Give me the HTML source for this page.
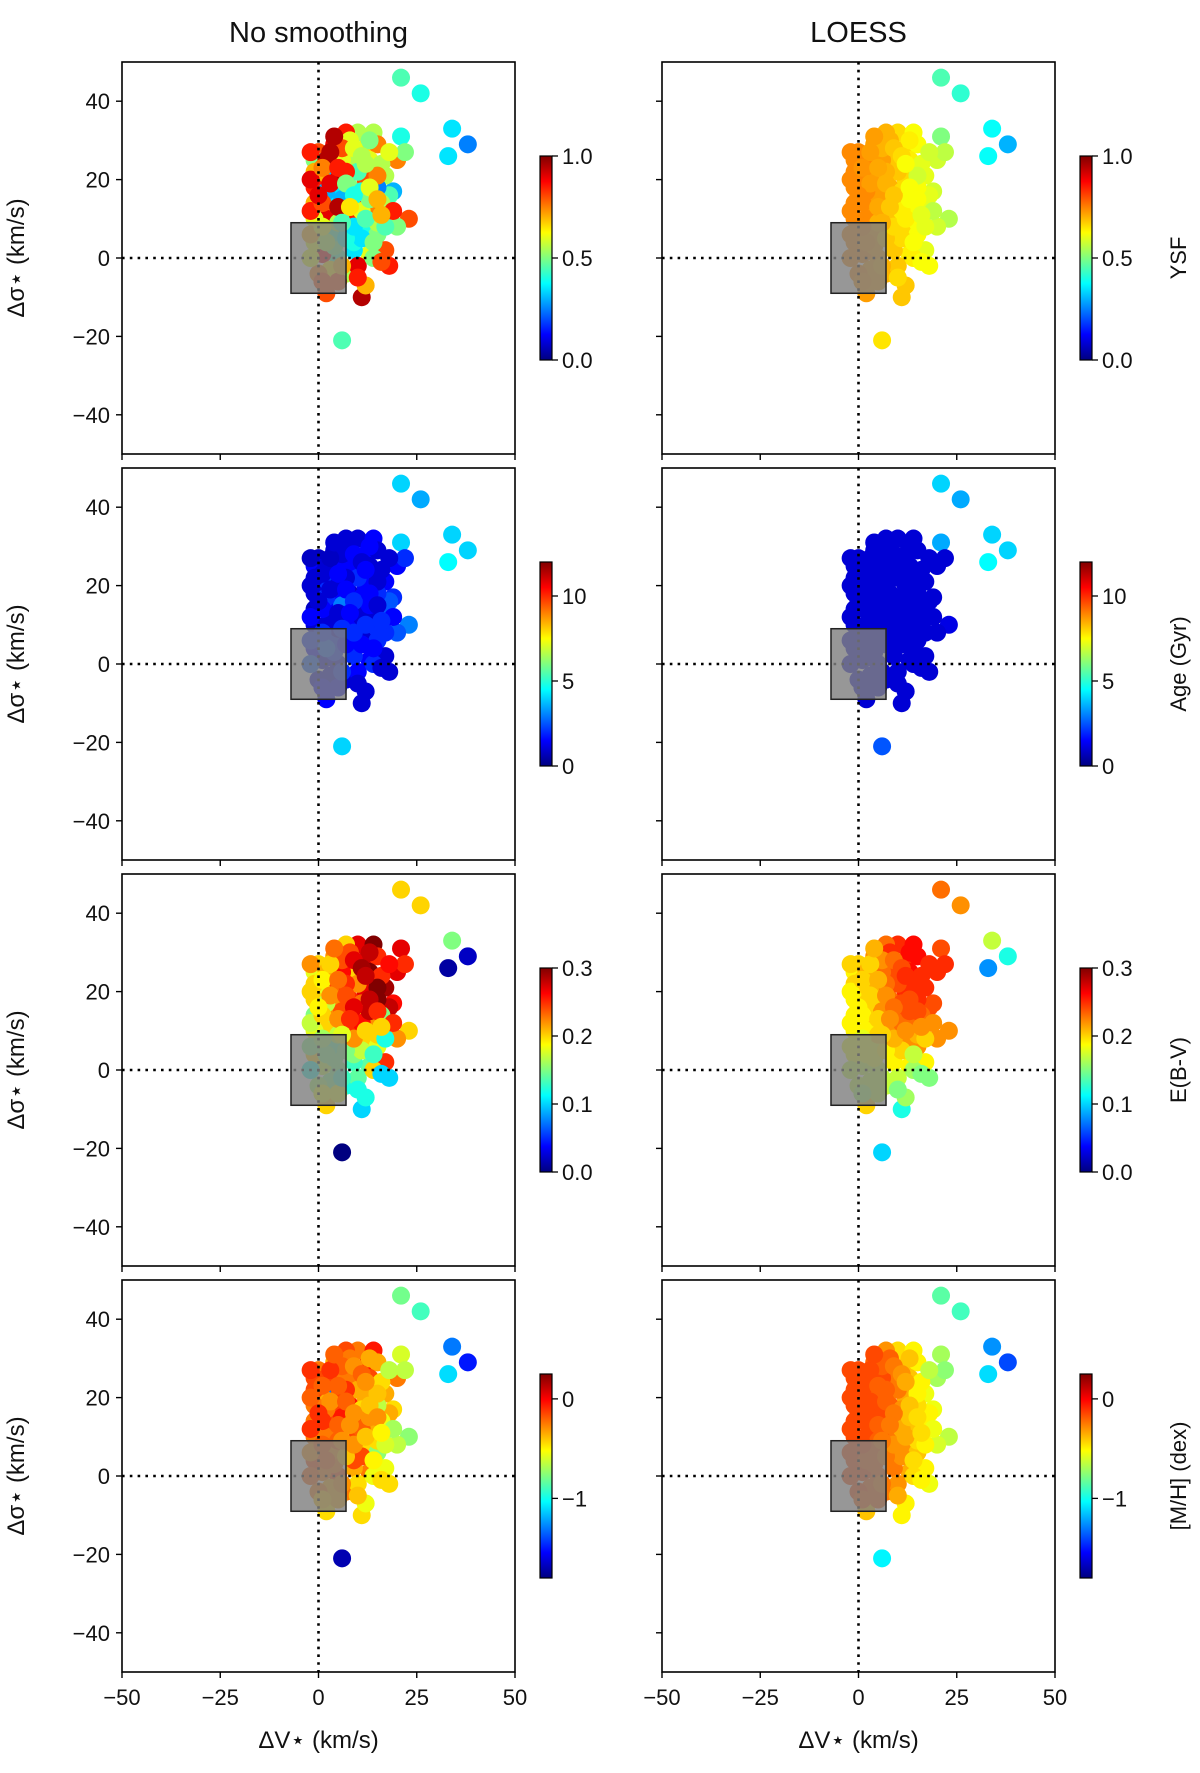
<!DOCTYPE html>
<html><head><meta charset="utf-8"><style>
html,body{margin:0;padding:0;background:#fff;}
svg{display:block;font-family:"Liberation Sans","DejaVu Sans",sans-serif;}
</style></head><body>
<svg id="fig" width="1200" height="1773" viewBox="0 0 1200 1773" xmlns="http://www.w3.org/2000/svg"></svg>
<script>
// ---- data ----
const dV = [21,26,34,38,33,21,6,11,2,12,18,23,20,19,18,20,22,17,10,14,7,4,0,-1,3,8,12,15,13,9,5,1,-1,4,8,12,15,16,11,7,3,-1,0,4,8,12,15,17,13,9,5,1,-1,3,7,10,14,16,0,5,9,2,6,10,14,2,6,10,16,-1,2,8,13,18,11,7,4,11,15,-1,
 -2,-2,-2,-2,1,3,5,7,9,11,13,15,17,19,6,9,11,3,1,5,3,7,9,13,15,1,5,8,12,14,10,6,2,0,-2,4,12,16,6,1];
const dS = [46,42,33,29,26,31,-21,-10,-9,-7,-2,10,8,17,16,25,27,21,32,32,32,29,27,25,23,27,28,29,25,24,20,20,18,16,18,20,18,14,14,12,12,14,8,6,7,8,6,2,1,2,0,1,4,-3,-4,-2,0,-1,-4,-6,4,10,15,10,12,25,25,22,24,22,17,30,30,27,17,22,3,5,9,10,
 20,12,6,0,-6,6,9,5,8,12,15,21,8,12,28,28,26,27,23,23,19,19,16,18,15,14,13,13,10,4,-5,-2,4,16,27,31,24,11,9,8];
const ysfRaw = [.45,.4,.35,.25,.35,.4,.45,.95,.8,.7,.85,.8,.5,.3,.45,.75,.5,.55,.55,.55,.85,.9,.8,.5,.3,.6,.65,.75,.6,.55,.95,.7,.85,.35,.5,.8,.25,.55,.85,.4,.75,.7,.4,.35,.55,.4,.5,.8,.6,.35,.45,.9,.6,.65,.55,.9,.5,.8,.75,.8,.4,.9,.3,.85,.75,.95,.6,.45,.55,.7,.3,.6,.5,.6,.4,.85,.5,.35,.55,.6,
 .9,.85,.7,.6,.8,.45,.55,.4,.35,.6,.5,.75,.45,.85,.8,.6,.55,.95,.75,.85,.9,.5,.4,.6,.7,.8,.95,.65,.45,.5,.85,.7,.55,.9,.85,.95,.55,.7,.45,.6];
const ysfLoess = [.45,.42,.38,.3,.38,.5,.65,.68,.72,.68,.62,.55,.58,.58,.6,.58,.56,.6,.66,.62,.7,.72,.74,.74,.73,.7,.66,.62,.64,.68,.72,.74,.74,.72,.7,.66,.62,.6,.66,.7,.72,.74,.74,.72,.7,.66,.62,.6,.64,.68,.72,.74,.74,.72,.7,.68,.64,.62,.74,.72,.68,.74,.72,.68,.62,.74,.72,.68,.6,.74,.74,.7,.64,.58,.66,.7,.72,.66,.62,.74,
 .74,.74,.74,.74,.73,.72,.7,.68,.66,.64,.62,.58,.6,.56,.7,.68,.66,.72,.73,.71,.72,.7,.68,.62,.62,.74,.71,.68,.64,.62,.66,.7,.73,.74,.74,.72,.62,.6,.7,.74];
const ageRaw = [4,3.5,4,4,4.5,4,4,1,1.5,1,1,3,2.5,2,2.5,1.5,2,1.5,1,1.5,1,1,0.8,1.5,2,1,1.5,1,1,1.5,1,2,1,1.5,1,1.5,2,2.5,1,1.5,1,0.8,3.5,2,2.5,1,2,1,1.5,2,1,1,1.5,1,1,1.5,2,1,1,1.5,2,1,3,1.5,1,1,1.5,2,1,1,2,1,1.5,1,1.5,1,2,1.5,2,1,
 1,1.5,2,2.5,1.5,2,1,1.5,2,1,1.5,1,2,1.5,1,1.5,1,0.8,1,1.5,1,1.5,2,1.5,1,1.5,1,1.5,2,1.5,1,2,2.5,1,0.8,1,1.5,2,2,2];
const ageLoess = [4,3.5,4,4,4.5,3.5,2.5,1,1,1,1,1.2,1,1,1,1,1,1,1,1,1,1,1,1,1,1,1,1,1,1,1,1,1,1,1,1,1,1,1,1,1,1,1,1,1,1,1,1,1,1,1,1,1,1,1,1,1,1,1,1,1,1,1,1,1,1,1,1,1,1,1,1,1,1,1,1,1,1,1,1,
 1,1,1,1,1,1,1,1,1,1,1,1,1,1,1,1,1,1,1,1,1,1,1,1,1,1,1,1,1,1,1,1,1,1,1,1,1,1,1,1];
const ebvRaw = [.2,.2,.15,.02,.01,.27,.0,.1,.2,.12,.1,.2,.22,.26,.28,.27,.25,.29,.27,.3,.2,.22,.2,.18,.24,.26,.28,.25,.3,.2,.23,.18,.2,.22,.25,.27,.3,.15,.2,.22,.17,.15,.1,.12,.15,.2,.18,.25,.14,.13,.15,.17,.2,.15,.12,.14,.2,.1,.16,.18,.15,.2,.24,.25,.22,.21,.26,.22,.25,.2,.17,.24,.28,.26,.23,.25,.15,.17,.2,.18,
 .2,.17,.15,.12,.18,.14,.17,.15,.22,.26,.28,.3,.12,.25,.24,.27,.29,.2,.19,.23,.22,.24,.27,.28,.25,.2,.22,.25,.2,.13,.12,.13,.15,.19,.22,.23,.28,.2,.18,.16];
const ebvLoess = [.23,.22,.17,.12,.08,.24,.1,.12,.2,.16,.15,.22,.22,.24,.24,.25,.25,.25,.25,.26,.23,.22,.2,.19,.21,.24,.25,.26,.26,.24,.21,.2,.19,.2,.23,.25,.25,.23,.24,.22,.2,.19,.18,.19,.21,.22,.22,.19,.19,.19,.17,.17,.18,.17,.17,.17,.16,.15,.17,.17,.19,.19,.22,.22,.23,.21,.23,.24,.25,.2,.2,.25,.26,.25,.24,.23,.18,.2,.21,.19,
 .19,.19,.18,.17,.16,.18,.2,.19,.21,.23,.24,.25,.2,.22,.22,.23,.24,.2,.2,.21,.2,.22,.23,.24,.24,.19,.2,.22,.22,.17,.15,.17,.18,.19,.2,.21,.25,.22,.2,.18];
const mhRaw = [-0.8,-0.9,-1.3,-1.5,-1.1,-0.6,-1.7,-0.45,-0.45,-0.55,-0.45,-0.75,-0.65,-0.45,-0.35,-0.25,-0.65,-0.35,-0.25,-0.05,-0.15,-0.35,-0.25,-0.15,-1.3,-0.25,-0.05,-0.35,-0.15,-0.25,-0.15,-0.35,-0.25,-0.15,-0.05,-0.35,-0.65,-0.55,-0.15,-0.35,-0.15,-0.25,-0.35,-0.25,-0.15,-0.45,-0.75,-0.55,-0.25,-0.35,-0.15,-0.25,-0.15,-0.35,-0.25,-0.45,-0.55,-0.45,-0.25,-0.35,-0.15,-0.25,-0.05,-0.15,-0.35,-0.15,-0.25,-0.35,-0.45,-0.15,-0.25,-0.25,-0.35,-0.65,-0.45,-0.1,-0.25,-0.15,-0.45,-0.25,
 -0.2,-0.1,-0.3,-0.2,-0.4,-0.3,-0.2,-0.4,-0.3,-0.2,-0.3,-0.4,-0.6,-0.7,-0.2,-0.3,-0.2,-0.1,-0.2,-0.2,-0.3,-0.2,-0.3,-0.4,-0.3,-0.1,-0.2,-0.3,-0.4,-0.5,-0.4,-0.3,-0.2,-0.1,-0.1,-0.2,-0.3,-0.5,-0.3,-0.2];
const mhLoess = [-0.85,-0.9,-1.25,-1.4,-1.1,-0.7,-1.05,-0.5,-0.4,-0.5,-0.55,-0.65,-0.6,-0.55,-0.5,-0.7,-0.75,-0.55,-0.45,-0.5,-0.3,-0.2,-0.15,-0.15,-0.15,-0.25,-0.4,-0.5,-0.4,-0.25,-0.2,-0.15,-0.15,-0.15,-0.2,-0.35,-0.45,-0.5,-0.3,-0.2,-0.15,-0.15,-0.15,-0.15,-0.2,-0.3,-0.4,-0.5,-0.35,-0.25,-0.2,-0.15,-0.15,-0.2,-0.25,-0.3,-0.45,-0.5,-0.15,-0.2,-0.25,-0.15,-0.15,-0.25,-0.4,-0.15,-0.15,-0.25,-0.5,-0.15,-0.15,-0.2,-0.4,-0.65,-0.3,-0.2,-0.2,-0.3,-0.45,-0.15,
 -0.15,-0.15,-0.15,-0.15,-0.2,-0.2,-0.2,-0.25,-0.3,-0.35,-0.4,-0.5,-0.5,-0.55,-0.2,-0.25,-0.3,-0.15,-0.15,-0.2,-0.15,-0.2,-0.25,-0.4,-0.45,-0.15,-0.2,-0.25,-0.35,-0.45,-0.35,-0.25,-0.2,-0.15,-0.15,-0.15,-0.35,-0.45,-0.25,-0.15];
const yTicks = [-40,-20,0,20,40];
const xTicks = [-50,-25,0,25,50];
const rowLabels = ["YSF","Age (Gyr)","E(B-V)","[M/H] (dex)"];
const rowRanges = [[0,1],[0,12],[0,0.3],[-1.8,0.25]];
const cbTicks = [[0,0.5,1],[0,5,10],[0,0.1,0.2,0.3],[-1,0]];
const cbTickText = [["0.0","0.5","1.0"],["0","5","10"],["0.0","0.1","0.2","0.3"],["\u22121","0"]];
const rowRaw = [ysfRaw,ageRaw,ebvRaw,mhRaw];
const rowLoess = [ysfLoess,ageLoess,ebvLoess,mhLoess];

// ---- layout ----
const NS="http://www.w3.org/2000/svg";
const svg=document.getElementById('fig');
const colX=[122,662], PW=393, PH=392, rowY=[62,468,874,1280];
function el(tag,attrs,parent){const e=document.createElementNS(NS,tag);for(const k in attrs)e.setAttribute(k,attrs[k]);(parent||svg).appendChild(e);return e;}
function jet(t){t=Math.max(0,Math.min(1,t));
 const r=Math.max(0,Math.min(1,1.5-Math.abs(4*t-3))),g=Math.max(0,Math.min(1,1.5-Math.abs(4*t-2))),b=Math.max(0,Math.min(1,1.5-Math.abs(4*t-1)));
 return `rgb(${Math.round(r*255)},${Math.round(g*255)},${Math.round(b*255)})`;}
function txt(s,attrs,parent){const t=el('text',attrs,parent);t.textContent=s;return t;}

const titles=["No smoothing","LOESS"];
titles.forEach((t,c)=>{
 const e=txt(t,{x:colX[c]+PW/2,y:42,'font-size':29,'text-anchor':'middle',fill:'#111'});
 
 
});

for(let r=0;r<4;r++){
 for(let c=0;c<2;c++){
  const x0=colX[c], y0=rowY[r];
  const sx=v=>x0+(v+50)/100*PW;
  const sy=v=>y0+(50-v)/100*PH;
  const g=el('g',{});
  
  
  const vals=c?rowLoess[r]:rowRaw[r];
  const [lo,hi]=rowRanges[r];
  for(let i=0;i<dV.length;i++){
   const p=el('circle',{cx:sx(dV[i]),cy:sy(dS[i]),r:9,fill:jet((vals[i]-lo)/(hi-lo))},g);
   
   
  }
  const vl=el('line',{x1:sx(0),x2:sx(0),y1:y0,y2:y0+PH,stroke:'#000','stroke-width':2.6,'stroke-dasharray':'2.6 5.2'},g);
  
  
  const hl=el('line',{x1:x0,x2:x0+PW,y1:sy(0),y2:sy(0),stroke:'#000','stroke-width':2.6,'stroke-dasharray':'2.6 5.2'},g);
  
  
  const bx=el('rect',{x:sx(-7),y:sy(9),width:sx(7)-sx(-7),height:sy(-9)-sy(9),fill:'rgba(128,128,128,0.82)',stroke:'#222','stroke-width':1.5},g);
  
  
  const fr=el('rect',{x:x0,y:y0,width:PW,height:PH,fill:'none',stroke:'#000','stroke-width':1.6},g);
  
  
  yTicks.forEach(v=>{
   el('line',{x1:x0-6,x2:x0,y1:sy(v),y2:sy(v),stroke:'#000','stroke-width':1.4},g);
   if(c===0){const t=txt(String(v).replace('-','\u2212'),{x:x0-12,y:sy(v)+8,'font-size':22,'text-anchor':'end',fill:'#111'},g);
    }
  });
  xTicks.forEach(v=>{
   el('line',{x1:sx(v),x2:sx(v),y1:y0+PH,y2:y0+PH+6,stroke:'#000','stroke-width':1.4},g);
   if(r===3){const t=txt(String(v).replace('-','\u2212'),{x:sx(v),y:y0+PH+33,'font-size':22,'text-anchor':'middle',fill:'#111'},g);
    }
  });
  if(c===0){
   const yl=txt('\u0394\u03c3\u22c6 (km/s)',{x:0,y:0,'font-size':24,'text-anchor':'middle',fill:'#111',transform:`translate(24,${y0+PH/2}) rotate(-90)`},g);
   
  }
  if(r===3){
   const xl=txt('\u0394V\u22c6 (km/s)',{x:sx(0),y:y0+PH+76,'font-size':24,'text-anchor':'middle',fill:'#111'},g);
   
  }
  // colorbar
  const cx=x0+PW+25, cy=y0+94, cw=12, ch=204;
  const cb=el('g',{},g);
  
  
  const gid=`grad${r}${c}`;
  const defs=el('defs',{},cb);
  const lg=el('linearGradient',{id:gid,x1:0,y1:1,x2:0,y2:0},defs);
  for(let k=0;k<=8;k++)el('stop',{offset:k/8,'stop-color':jet(k/8)},lg);
  el('rect',{x:cx,y:cy,width:cw,height:ch,fill:`url(#${gid})`,stroke:'#000','stroke-width':1.2},cb);
  cbTicks[r].forEach((v,k)=>{
   const yy=cy+ch-(v-lo)/(hi-lo)*ch;
   el('line',{x1:cx+cw,x2:cx+cw+6,y1:yy,y2:yy,stroke:'#000','stroke-width':1.3},cb);
   const t=txt(cbTickText[r][k],{x:cx+cw+10,y:yy+8,'font-size':22,fill:'#111'},cb);
   
  });
  if(c===1){
   const cl=txt(rowLabels[r],{x:0,y:0,'font-size':22,'text-anchor':'middle',fill:'#111',transform:`translate(1186,${cy+ch/2}) rotate(-90)`},cb);
   
  }
 }
}
</script>
</body></html>
